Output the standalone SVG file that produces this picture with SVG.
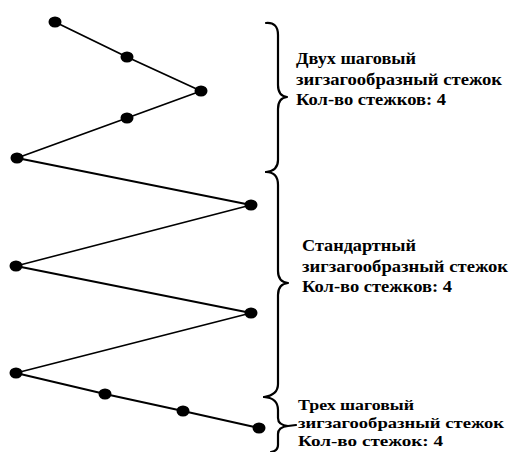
<svg xmlns="http://www.w3.org/2000/svg" width="510" height="452" viewBox="0 0 510 452">
<style>
.ln{fill:none;stroke:#000;stroke-width:1.8;stroke-linejoin:round}
.br{fill:none;stroke:#000;stroke-width:2.2;stroke-linecap:round;stroke-linejoin:round}
.dot{fill:#000}
text{font-family:"Liberation Serif","Times New Roman",serif;font-weight:bold;font-size:17px;fill:#000}
.sm{font-size:15.5px}
</style>
<rect width="510" height="452" fill="#fff"/>
<g id="connectors">
<polyline class="ln" points="55,22 127,57 201,91 127,118 17,158 251,205 16,266 251,313 16,373 105,394 183,411 259,428"/>
</g>
<g id="p1"><ellipse class="dot" cx="55" cy="22" rx="6.5" ry="5.5"/></g>
<g id="p2"><ellipse class="dot" cx="127" cy="57" rx="6.5" ry="5.5"/></g>
<g id="p3"><ellipse class="dot" cx="201" cy="91" rx="6.5" ry="5.5"/></g>
<g id="p4"><ellipse class="dot" cx="127" cy="118" rx="6.5" ry="5.5"/></g>
<g id="p5"><ellipse class="dot" cx="17" cy="158" rx="6.5" ry="5.5"/></g>
<g id="p6"><ellipse class="dot" cx="251" cy="205" rx="6.5" ry="5.5"/></g>
<g id="p7"><ellipse class="dot" cx="16" cy="266" rx="6.5" ry="5.5"/></g>
<g id="p8"><ellipse class="dot" cx="251" cy="313" rx="6.5" ry="5.5"/></g>
<g id="p9"><ellipse class="dot" cx="16" cy="373" rx="6.5" ry="5.5"/></g>
<g id="p10"><ellipse class="dot" cx="105" cy="394" rx="6.5" ry="5.5"/></g>
<g id="p11"><ellipse class="dot" cx="183" cy="411" rx="6.5" ry="5.5"/></g>
<g id="p12"><ellipse class="dot" cx="259" cy="428" rx="6.5" ry="5.5"/></g>
<g id="brace1">
<path class="br" d="M266,23 Q278,22 278,35 L278,85 Q278,96 287,97 Q278,98 278,109 L278,160 Q278,171 266,172"/>
<text x="296" y="64" textLength="120" lengthAdjust="spacingAndGlyphs">Двух шаговый</text>
<text x="296" y="85" textLength="206" lengthAdjust="spacingAndGlyphs">зигзагообразный стежок</text>
<text x="296" y="105" textLength="150" lengthAdjust="spacingAndGlyphs">Кол-во стежков: 4</text>
</g>
<g id="brace2">
<path class="br" d="M266,172 Q278,172 278,185 L278,271 Q278,282 288,283 Q278,284 278,295 L278,384 Q278,395 264,397"/>
<text x="302" y="251" textLength="114" lengthAdjust="spacingAndGlyphs">Стандартный</text>
<text x="302" y="272" textLength="206" lengthAdjust="spacingAndGlyphs">зигзагообразный стежок</text>
<text x="302" y="292" textLength="150" lengthAdjust="spacingAndGlyphs">Кол-во стежков: 4</text>
</g>
<g id="brace3">
<path class="br" d="M264,397 Q278,398 278,410 L278,418 Q278,425 288,426 Q278,427 278,434 L278,445 Q278,451 271,452 M288,426 L296,425"/>
<text class="sm" x="298" y="410" textLength="116" lengthAdjust="spacingAndGlyphs">Трех шаговый</text>
<text class="sm" x="298" y="428" textLength="206" lengthAdjust="spacingAndGlyphs">зигзагообразный стежок</text>
<text class="sm" x="298" y="446" textLength="145" lengthAdjust="spacingAndGlyphs">Кол-во стежок: 4</text>
</g>
</svg>
